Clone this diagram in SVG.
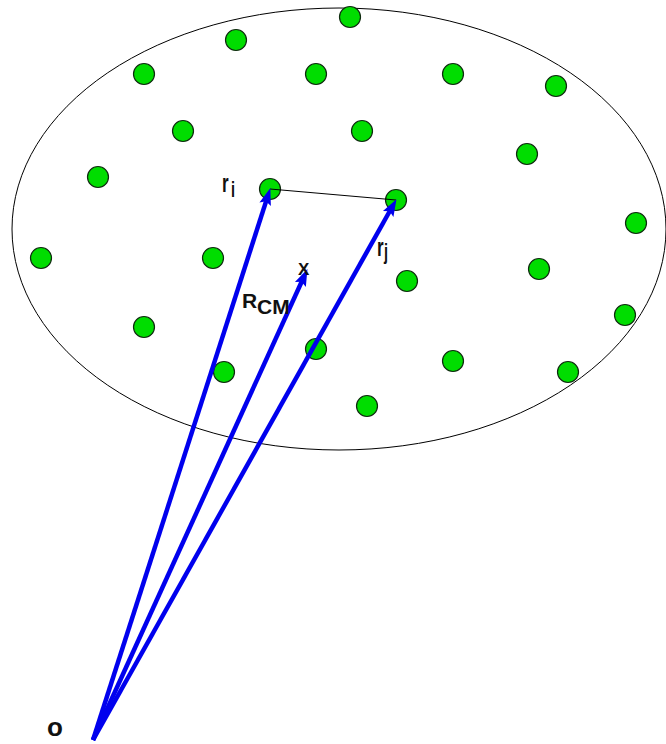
<svg xmlns="http://www.w3.org/2000/svg" width="666" height="744" viewBox="0 0 666 744">
<style>
.dot{fill:#00dd00;stroke:#0f2a0f;stroke-width:1.2}
.vec{stroke:#0000ee;stroke-width:4.5;fill:none}
.lbl{font-family:"Liberation Sans",Arial,sans-serif;font-weight:bold;fill:#111}
</style>
<defs>
<marker id="ah" markerUnits="userSpaceOnUse" markerWidth="20" markerHeight="14" viewBox="0 -7 18 14" refX="8" refY="0" orient="auto">
<path d="M0,-6 L17,0 L0,6 L3,0 z" fill="#0000ee"/>
</marker>
</defs>
<rect width="666" height="744" fill="#fff"/>
<g id="body">
<ellipse cx="339" cy="229" rx="327" ry="221" fill="none" stroke="#000" stroke-width="1"/>
</g>
<g id="particles">
<circle class="dot" cx="350" cy="17" r="10.5"/>
<circle class="dot" cx="236" cy="40" r="10.5"/>
<circle class="dot" cx="144" cy="74" r="10.5"/>
<circle class="dot" cx="316" cy="74" r="10.5"/>
<circle class="dot" cx="453" cy="74" r="10.5"/>
<circle class="dot" cx="556" cy="86" r="10.5"/>
<circle class="dot" cx="183" cy="131" r="10.5"/>
<circle class="dot" cx="362" cy="131" r="10.5"/>
<circle class="dot" cx="527" cy="154" r="10.5"/>
<circle class="dot" cx="98" cy="177" r="10.5"/>
<circle class="dot" cx="270" cy="189" r="10.5"/>
<circle class="dot" cx="396" cy="200" r="10.5"/>
<circle class="dot" cx="636" cy="223" r="10.5"/>
<circle class="dot" cx="41" cy="258" r="10.5"/>
<circle class="dot" cx="213" cy="258" r="10.5"/>
<circle class="dot" cx="407" cy="281" r="10.5"/>
<circle class="dot" cx="539" cy="269" r="10.5"/>
<circle class="dot" cx="625" cy="315" r="10.5"/>
<circle class="dot" cx="144" cy="327" r="10.5"/>
<circle class="dot" cx="316" cy="349" r="10.5"/>
<circle class="dot" cx="453" cy="361" r="10.5"/>
<circle class="dot" cx="568" cy="372" r="10.5"/>
<circle class="dot" cx="224" cy="372" r="10.5"/>
<circle class="dot" cx="367" cy="406" r="10.5"/>
</g>
<g id="connectors">
<line x1="270" y1="189" x2="396" y2="200" stroke="#000" stroke-width="1"/>
<line class="vec" x1="93" y1="740" x2="267.6" y2="196.6" marker-end="url(#ah)"/>
<line class="vec" x1="93" y1="740" x2="303.7" y2="277.3" marker-end="url(#ah)"/>
<line class="vec" x1="93" y1="740" x2="392.1" y2="207" marker-end="url(#ah)"/>
</g>
<g id="labels">
<text class="lbl" transform="translate(222,192) scale(0.85,1.25)" font-size="20">r</text>
<text class="lbl" transform="translate(231,197) scale(0.85,1.25)" font-size="17">i</text>
<text class="lbl" transform="translate(377,256) scale(0.85,1.25)" font-size="20">r</text>
<text class="lbl" transform="translate(384,259) scale(0.85,1.25)" font-size="17">j</text>
<text class="lbl" x="242" y="308" font-size="21">R</text>
<text class="lbl" x="257" y="314" font-size="21">CM</text>
<text class="lbl" x="298" y="275" font-size="17">X</text>
<text class="lbl" x="47" y="736" font-size="26">o</text>
</g>
</svg>
